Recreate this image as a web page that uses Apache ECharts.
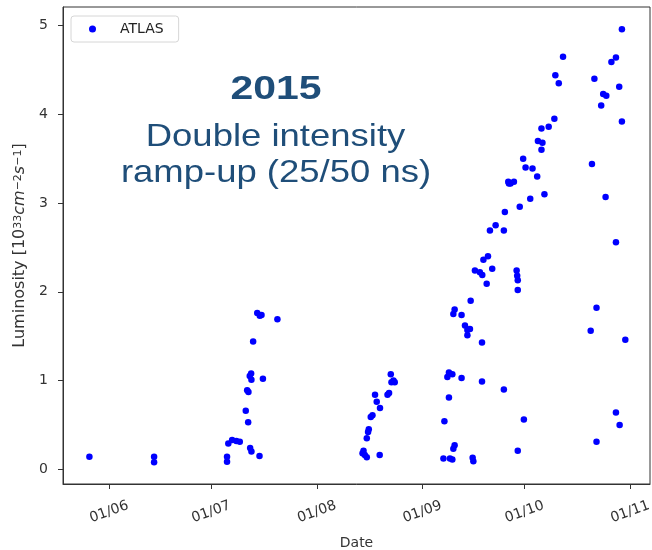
<!DOCTYPE html>
<html>
<head>
<meta charset="utf-8">
<script src="https://cdn.jsdelivr.net/npm/echarts@6/dist/echarts.min.js"></script>
<style>
html,body{margin:0;padding:0;background:#fff;}
#chart{width:652px;height:550px;}
</style>
</head>
<body>
<div id="chart"></div>
<script>
// Fill dates (local time) and ATLAS peak luminosity [1e33 cm^-2 s^-1]
const dates = [
  '2015-05-26 05:00','2015-06-14 05:00','2015-06-14 05:00',
  '2015-07-05 15:00','2015-07-05 15:00','2015-07-06 00:00','2015-07-07 03:00','2015-07-08 09:00',
  '2015-07-09 09:00','2015-07-11 03:00','2015-07-11 20:00','2015-07-11 13:00','2015-07-11 22:00',
  '2015-07-12 07:00','2015-07-12 17:00','2015-07-12 19:00','2015-07-12 10:00','2015-07-12 19:00',
  '2015-07-13 07:00','2015-07-14 12:00','2015-07-15 06:00','2015-07-15 18:00','2015-07-15 04:00',
  '2015-07-16 04:00','2015-07-20 10:00',
  '2015-08-14 10:00','2015-08-14 17:00','2015-08-15 02:00','2015-08-15 16:00','2015-08-15 16:00',
  '2015-08-16 01:00','2015-08-16 06:00','2015-08-16 20:00','2015-08-17 08:00','2015-08-18 02:00',
  '2015-08-18 14:00','2015-08-19 13:00','2015-08-19 11:00','2015-08-21 18:00','2015-08-22 05:00',
  '2015-08-22 17:00','2015-08-22 22:00','2015-08-23 12:00','2015-08-23 21:00',
  '2015-09-07 04:00','2015-09-07 11:00','2015-09-08 08:00','2015-09-08 19:00','2015-09-08 19:00',
  '2015-09-09 02:00','2015-09-09 19:00','2015-09-09 19:00','2015-09-10 02:00','2015-09-10 11:00',
  '2015-09-10 02:00','2015-09-10 11:00','2015-09-12 12:00','2015-09-12 12:00','2015-09-13 12:00',
  '2015-09-14 05:00','2015-09-14 23:00','2015-09-14 05:00','2015-09-15 04:00','2015-09-15 18:00',
  '2015-09-15 23:00','2015-09-16 10:00','2015-09-17 21:00','2015-09-18 14:00','2015-09-18 12:00',
  '2015-09-18 12:00','2015-09-18 22:00','2015-09-20 06:00','2015-09-19 21:00','2015-09-20 20:00',
  '2015-09-21 12:00','2015-09-22 12:00','2015-09-24 22:00','2015-09-24 22:00','2015-09-25 05:00',
  '2015-09-26 05:00','2015-09-26 10:00','2015-09-26 21:00','2015-09-27 21:00','2015-09-28 16:00',
  '2015-09-28 20:00','2015-09-29 00:00','2015-09-29 00:00','2015-09-29 00:00','2015-09-29 14:00',
  '2015-09-30 14:00','2015-09-30 19:00',
  '2015-10-01 07:00','2015-10-02 16:00','2015-10-03 08:00','2015-10-04 17:00','2015-10-04 22:00',
  '2015-10-05 23:00','2015-10-05 23:00','2015-10-06 06:00','2015-10-06 20:00','2015-10-08 02:00',
  '2015-10-09 18:00','2015-10-10 01:00','2015-10-11 01:00','2015-10-12 07:00',
  '2015-10-20 10:00','2015-10-20 19:00','2015-10-21 12:00','2015-10-22 03:00','2015-10-22 03:00',
  '2015-10-23 12:00','2015-10-24 02:00','2015-10-24 19:00','2015-10-25 00:00','2015-10-26 12:00',
  '2015-10-27 20:00','2015-10-27 20:00','2015-10-27 20:00','2015-10-28 19:00','2015-10-28 22:00',
  '2015-10-29 14:00','2015-10-29 14:00','2015-10-30 14:00'
];
const luminosity = [
  0.14, 0.14, 0.08,
  0.14, 0.085, 0.29, 0.33, 0.32,
  0.31, 0.66, 0.53, 0.89, 0.87,
  1.05, 1.08, 1.01, 0.24, 0.20,
  1.44, 1.76, 1.73, 1.74, 0.15,
  1.02, 1.69,
  0.18, 0.21, 0.16, 0.135, 0.35,
  0.42, 0.45, 0.59, 0.61, 0.84,
  0.76, 0.69, 0.16, 0.84, 0.86,
  1.07, 0.98, 1.00, 0.98,
  0.12, 0.54, 1.04, 1.09, 0.81,
  0.12, 0.11, 1.07, 0.23, 0.27,
  1.75, 1.80, 1.74, 1.03, 1.62,
  1.57, 1.58, 1.51, 1.90, 0.13,
  0.09, 2.24, 2.22, 2.19, 1.43,
  0.99, 2.36, 2.40, 2.09, 2.69,
  2.26, 2.75, 2.69, 0.90, 2.90,
  3.24, 3.22, 3.22, 3.24, 2.24,
  2.18, 2.13, 2.02, 0.21, 2.96,
  3.50, 0.56,
  3.40, 3.05, 3.39, 3.30, 3.70,
  3.60, 3.84, 3.68, 3.10, 3.86,
  3.95, 4.44, 4.35, 4.65,
  1.56, 3.44, 4.40, 1.82, 0.31,
  4.10, 4.23, 3.07, 4.21, 4.59,
  4.64, 2.56, 0.64, 4.31, 0.50,
  4.96, 3.92, 1.46
];
const xTickDates = ['2015-06-01','2015-07-01','2015-08-01','2015-09-01','2015-10-01','2015-11-01'];
const yTicks = [0, 1, 2, 3, 4, 5];
const xRange = ['2015-05-18 11:00', '2015-11-06 20:00'];
const yRange = [-0.166, 5.21];
const seriesName = 'ATLAS';
const titleLines = ['2015', 'Double intensity', 'ramp-up (25/50 ns)'];

function parseDate(s) {
  const m = s.match(/(\d+)-(\d+)-(\d+)(?:\s+(\d+):(\d+))?/);
  return new Date(+m[1], +m[2] - 1, +m[3], m[4] ? +m[4] : 0, m[5] ? +m[5] : 0).getTime();
}
function pad(n) { return (n < 10 ? '0' : '') + n; }

const points = dates.map((d, i) => [parseDate(d), luminosity[i]]);
const xTicks = xTickDates.map(parseDate);

const FONT = 'DejaVu Sans';
const AXC = '#333';
const TITLE_C = '#1f4e79';

const chart = echarts.init(document.getElementById('chart'), null, {renderer: 'canvas'});
chart.setOption({
  animation: false,
  backgroundColor: '#fff',
  grid: {left: 63, right: 2, top: 7, bottom: 66, containLabel: false, outerBoundsMode: 'none',
    show: true, borderColor: AXC, borderWidth: 1, backgroundColor: 'transparent'},
  legend: {
    left: 71, top: 16,
    data: [seriesName],
    icon: 'circle', itemWidth: 7, itemHeight: 7,
    padding: [6, 15, 6, 18],
    borderColor: '#d6d6d6', borderWidth: 1, borderRadius: 3,
    backgroundColor: '#fff',
    textStyle: {fontFamily: FONT, fontSize: 14, color: '#222', padding: [0, 0, 0, 19]}
  },
  xAxis: {
    type: 'value',
    min: parseDate(xRange[0]), max: parseDate(xRange[1]),
    name: 'Date', nameLocation: 'middle', nameGap: 52,
    nameTextStyle: {fontFamily: FONT, fontSize: 14, color: AXC},
    axisLine: {show: true, onZero: false, lineStyle: {color: AXC, width: 1}},
    axisTick: {show: true, length: 5, lineStyle: {color: AXC}, customValues: xTicks},
    axisLabel: {
      customValues: xTicks,
      rotate: 20, align: 'center', verticalAlign: 'middle', margin: 28,
      fontFamily: FONT, fontSize: 14, color: AXC,
      formatter: v => { const d = new Date(v); return pad(d.getDate()) + '/' + pad(d.getMonth() + 1); }
    },
    splitLine: {show: false}
  },
  yAxis: {
    type: 'value',
    min: yRange[0], max: yRange[1],
    name: 'Luminosity [10{sup|33}{it|cm}{sup|−2}{it|s}{sup|−1}]',
    nameLocation: 'middle', nameGap: 32, nameRotate: 90,
    nameTextStyle: {
      fontFamily: FONT, fontSize: 16, color: AXC,
      rich: {
        sup: {fontFamily: FONT, fontSize: 11, color: AXC, verticalAlign: 'top'},
        it: {fontFamily: FONT, fontSize: 16, fontStyle: 'italic', color: AXC}
      }
    },
    axisLine: {show: true, onZero: false, lineStyle: {color: AXC, width: 1}},
    axisTick: {show: true, length: 5, lineStyle: {color: AXC}, customValues: yTicks},
    axisLabel: {customValues: yTicks, margin: 15, fontFamily: FONT, fontSize: 14, color: AXC},
    splitLine: {show: false}
  },
  graphic: [
    {type: 'text', x: 276, y: 90, scaleX: 1.24, z: 10,
      style: {text: titleLines[0], fontFamily: 'Liberation Sans', fontWeight: 'bold', fontSize: 33, fill: TITLE_C, align: 'center', verticalAlign: 'middle'}},
    {type: 'text', x: 275.5, y: 137, scaleX: 1.14, z: 10,
      style: {text: titleLines[1], fontFamily: 'Liberation Sans', fontSize: 32, fill: TITLE_C, align: 'center', verticalAlign: 'middle'}},
    {type: 'text', x: 276, y: 173, scaleX: 1.14, z: 10,
      style: {text: titleLines[2], fontFamily: 'Liberation Sans', fontSize: 32, fill: TITLE_C, align: 'center', verticalAlign: 'middle'}}
  ],
  series: [{
    name: seriesName,
    type: 'scatter',
    data: points,
    symbol: 'circle',
    symbolSize: 6.5,
    itemStyle: {color: '#0000ff', opacity: 1}
  }]
});
</script>
</body>
</html>
